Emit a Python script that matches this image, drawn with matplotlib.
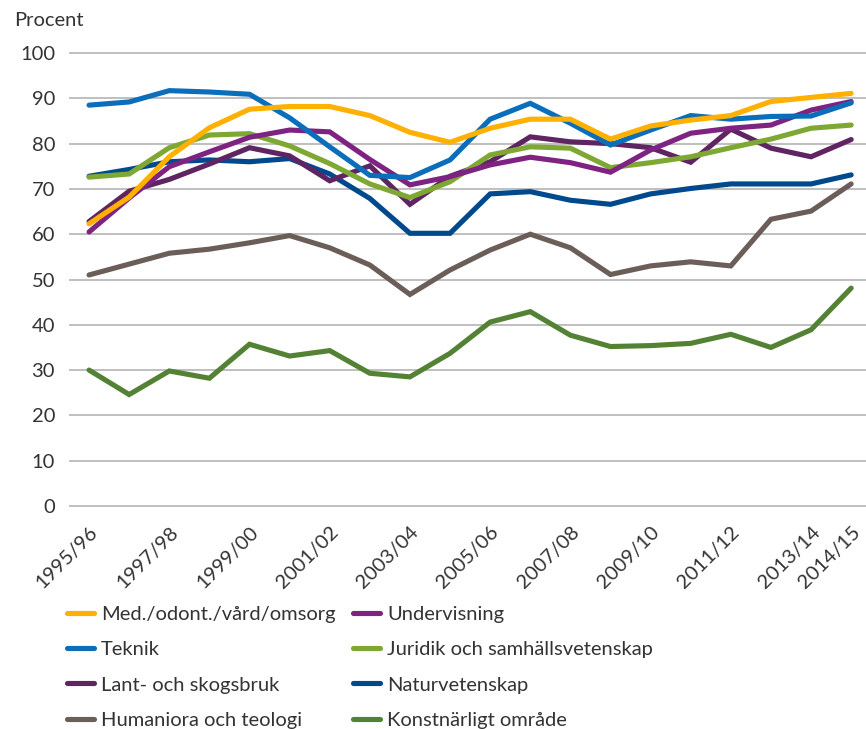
import matplotlib
matplotlib.use("Agg")
import matplotlib.pyplot as plt

years = ["1995/96", "1996/97", "1997/98", "1998/99", "1999/00", "2000/01", "2001/02",
         "2002/03", "2003/04", "2004/05", "2005/06", "2006/07", "2007/08", "2008/09",
         "2009/10", "2010/11", "2011/12", "2012/13", "2013/14", "2014/15"]
tick_labels_shown = ["1995/96", "1997/98", "1999/00", "2001/02", "2003/04", "2005/06",
                     "2007/08", "2009/10", "2011/12", "2013/14", "2014/15"]

med = [62.3, 68.2, 77.1, 83.5, 87.6, 88.2, 88.2, 86.2, 82.5, 80.3,
       83.4, 85.4, 85.4, 81.0, 83.9, 85.2, 86.2, 89.3, 90.2, 91.1]
undervisning = [60.5, 68.0, 74.9, 78.2, 81.4, 83.0, 82.6, 76.5, 70.9, 72.7,
                75.3, 77.0, 75.8, 73.7, 78.6, 82.3, 83.4, 84.1, 87.4, 89.3]
teknik = [88.5, 89.2, 91.7, 91.4, 90.9, 85.7, 79.3, 73.0, 72.5, 76.4,
          85.4, 88.9, 84.5, 79.7, 83.0, 86.2, 85.4, 86.0, 86.1, 89.0]
juridik = [72.6, 73.3, 79.1, 81.9, 82.2, 79.5, 75.6, 71.1, 68.1, 71.6,
           77.5, 79.3, 79.0, 74.7, 75.8, 77.1, 79.1, 81.0, 83.4, 84.1]
lant = [62.8, 69.5, 72.1, 75.5, 79.1, 77.3, 71.8, 75.1, 66.6, 72.8,
        76.0, 81.5, 80.4, 80.0, 79.1, 75.9, 83.2, 79.0, 77.1, 80.9]
naturvetenskap = [72.8, 74.3, 76.0, 76.4, 76.0, 76.7, 73.3, 67.9, 60.2, 60.2,
                  68.9, 69.4, 67.5, 66.6, 68.9, 70.1, 71.1, 71.1, 71.1, 73.1]
humaniora = [51.0, 53.4, 55.8, 56.7, 58.1, 59.7, 57.0, 53.2, 46.7, 52.1,
             56.5, 60.0, 57.0, 51.1, 53.0, 53.9, 53.0, 63.3, 65.1, 71.1]
konst = [30.0, 24.6, 29.8, 28.2, 35.7, 33.1, 34.3, 29.3, 28.5, 33.7,
         40.6, 42.9, 37.7, 35.2, 35.4, 35.9, 37.9, 35.0, 38.9, 48.1]

series = [
    ("Konstnärligt område", konst, "#548235"),
    ("Humaniora och teologi", humaniora, "#6B5E59"),
    ("Naturvetenskap", naturvetenskap, "#00498D"),
    ("Lant- och skogsbruk", lant, "#5F2462"),
    ("Juridik och samhällsvetenskap", juridik, "#7EA833"),
    ("Undervisning", undervisning, "#7E2382"),
    ("Teknik", teknik, "#0A6EBB"),
    ("Med./odont./vård/omsorg", med, "#FFB000"),
]

plt.rcParams['font.family'] = ['Lato', 'DejaVu Sans']
txt_color = "#333333"
fs = 14.5

fig = plt.figure(figsize=(8.66, 7.29), dpi=100)
ax = fig.add_axes([69/866, 1 - 515/729, 1 - 69/866, (515 - 44)/729])

x = list(range(len(years)))
handles = {}
for name, vals, col in series:
    (h,) = ax.plot(x, vals, color=col, lw=3.7, solid_capstyle='round',
                   solid_joinstyle='miter', label=name)
    handles[name] = h

ax.set_xlim(-0.5, 19.37)
ax.set_ylim(-2, 102)
ax.set_yticks(range(0, 101, 10))
ax.yaxis.grid(True, color="#BFBFBF", lw=1.4)
ax.set_axisbelow(True)
for s in ax.spines.values():
    s.set_visible(False)
ax.tick_params(axis='both', length=0, labelsize=fs, colors=txt_color)
ax.tick_params(axis='y', pad=10)

tick_pos = [years.index(t) for t in tick_labels_shown]
ax.set_xticks(tick_pos)
ax.set_xticklabels(tick_labels_shown, rotation=45, ha='right', va='top',
                   rotation_mode='anchor')
ax.tick_params(axis='x', pad=6)

fig.text(14/866, 1 - 20/729, "Procent", fontsize=fs, color=txt_color,
         ha='left', va='center')

order = ["Med./odont./vård/omsorg", "Teknik", "Lant- och skogsbruk", "Humaniora och teologi",
         "Undervisning", "Juridik och samhällsvetenskap", "Naturvetenskap", "Konstnärligt område"]
leg = fig.legend([handles[n] for n in order], order, ncol=2, loc='upper left',
                 bbox_to_anchor=(67/866, 1 - 606/729), frameon=False, fontsize=fs,
                 handlelength=1.35, handletextpad=0.35, columnspacing=0.85,
                 labelspacing=0.9, borderaxespad=0, borderpad=0)
for t in leg.get_texts():
    t.set_color(txt_color)

fig.savefig("out.png", dpi=100)
